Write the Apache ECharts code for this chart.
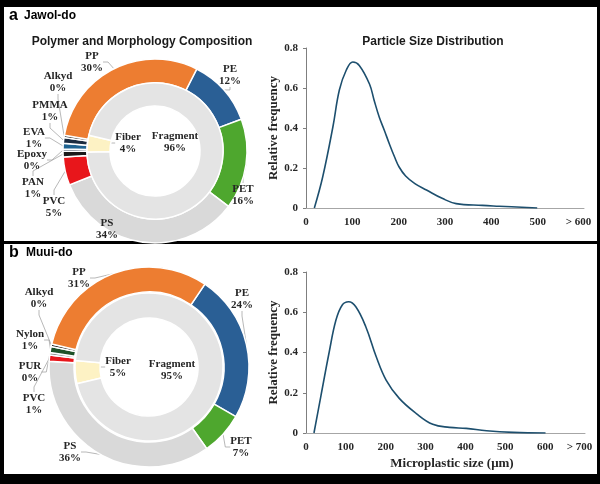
<!DOCTYPE html>
<html>
<head>
<meta charset="utf-8">
<script src="https://cdn.jsdelivr.net/npm/echarts@6/dist/echarts.min.js"></script>
<style>
  html, body { margin: 0; padding: 0; background: #000; }
  #wrap { position: relative; width: 600px; height: 484px; background: #000; }
  .panel { position: absolute; left: 4px; width: 593px; background: #fff; }
  #main { position: absolute; left: 0; top: 0; width: 600px; height: 484px; }
</style>
</head>
<body>
<div id="wrap">
  <div class="panel" style="top:7px;height:234px"></div>
  <div class="panel" style="top:244px;height:230px"></div>
  <div id="main"></div>
</div>
<script>
// Jawol-do polymer composition (%), clockwise from PE
const polymerNamesA = ["PE", "PET", "PS", "PVC", "PAN", "Epoxy", "EVA", "PMMA", "Alkyd", "PP"];
const polymerPctA = [12, 16, 34, 5, 1, 0.4, 1, 1, 0.4, 30];
// Muui-do polymer composition (%)
const polymerNamesB = ["PE", "PET", "PS", "PVC", "PUR", "Nylon", "Alkyd", "PP"];
const polymerPctB = [24, 7, 36, 1, 0.4, 1, 0.4, 31];
// morphology
const morphNames = ["Fiber", "Fragment"];
const morphPctA = [4, 96];
const morphPctB = [5, 95];

// particle size distribution (size in µm, relative frequency)
const sizeA = [18, 36, 58, 72, 87, 101, 115, 137, 147, 158, 169, 180, 191, 201, 215, 235, 260, 295, 324, 381, 417, 499];
const freqA = [0, 0.155, 0.405, 0.59, 0.69, 0.73, 0.713, 0.62, 0.539, 0.455, 0.389, 0.32, 0.256, 0.205, 0.16, 0.122, 0.09, 0.047, 0.022, 0.013, 0.009, 0];
const sizeB = [20, 37, 58, 75, 91, 107, 125, 150, 176, 201, 234, 276, 318, 360, 402, 453, 520, 601];
const freqB = [0, 0.18, 0.40, 0.56, 0.636, 0.652, 0.627, 0.528, 0.38, 0.263, 0.172, 0.098, 0.043, 0.028, 0.023, 0.011, 0.003, 0];

const colors = {
  PE: "#2a5f95", PET: "#4ea72e", PS: "#d9d9d9", PVC: "#e8161b", PAN: "#1a1a1a",
  Epoxy: "#3d4a5c", EVA: "#1f6391", PMMA: "#1c2c40", Alkyd: "#0d0d0d", PP: "#ed7d31",
  PUR: "#7f7f7f", Nylon: "#1e5128", Fiber: "#fdf2c4", Fragment: "#e4e4e4"
};

// where the labels sit (px), as in the original figure
const labelPosA = {
  PP: [92, 62], Alkyd: [58, 82], PMMA: [50, 111], EVA: [34, 138], Epoxy: [32, 160],
  PAN: [33, 188], PVC: [54, 207], PS: [107, 229], PE: [230, 75], PET: [243, 195],
  Fiber: [128, 143], Fragment: [175, 142]
};
const labelPosB = {
  PP: [79, 278], Alkyd: [39, 298], Nylon: [30, 340], PUR: [30, 372], PVC: [34, 404],
  PS: [70, 452], PE: [242, 299], PET: [241, 447],
  Fiber: [118, 367], Fragment: [172, 370]
};

const serif = "Liberation Serif";
const sans = "Liberation Sans";

function ring(names, values, center, radius, startAngle, pos) {
  return {
    type: "pie",
    center: center,
    radius: radius,
    startAngle: startAngle,
    clockwise: true,
    avoidLabelOverlap: false,
    data: names.map(function (n, i) {
      const d = { name: n, value: values[i], itemStyle: { color: colors[n] } };
      if (n === "Fragment") d.labelLine = { show: false };
      return d;
    }),
    itemStyle: { borderColor: "#fff", borderWidth: 1.5 },
    label: {
      show: true,
      position: "outside",
      formatter: function (p) { return p.name + "\n" + Math.round(p.value) + "%"; },
      fontFamily: serif,
      fontWeight: "bold",
      fontSize: 11,
      lineHeight: 12,
      color: "#262626"
    },
    labelLine: { show: true, length: 5, length2: 5, lineStyle: { color: "#a6a6a6", width: 0.8 } },
    labelLayout: function (p) {
      const q = pos[names[p.dataIndex]];
      return { x: q[0], y: q[1], align: "center", verticalAlign: "middle" };
    },
    emphasis: { disabled: true }
  };
}

function zip(xs, ys) {
  return xs.map(function (x, i) { return [x, ys[i]]; });
}

const axisFont = { fontFamily: serif, fontWeight: "bold", fontSize: 11, color: "#262626" };

function xAxisFor(gridIndex, max, name) {
  return {
    type: "value",
    gridIndex: gridIndex,
    min: 0,
    max: max,
    interval: 100,
    axisLine: { show: true, lineStyle: { color: "#a6a6a6", width: 1 } },
    axisTick: { show: false },
    splitLine: { show: false },
    axisLabel: Object.assign({
      margin: 9,
      formatter: function (v) { return v === max ? "{last|> " + v + "}" : String(v); },
      rich: { last: { fontFamily: serif, fontWeight: "bold", fontSize: 11, color: "#262626", padding: [0, 11, 0, 0] } }
    }, axisFont),
    name: name,
    nameLocation: "middle",
    nameGap: 24,
    nameTextStyle: { fontFamily: serif, fontWeight: "bold", fontSize: 13, color: "#262626", padding: [0, 0, 0, 13] }
  };
}

function yAxisFor(gridIndex) {
  return {
    type: "value",
    gridIndex: gridIndex,
    min: 0,
    max: 0.8,
    interval: 0.2,
    axisLine: { show: true, lineStyle: { color: "#7f7f7f", width: 1 } },
    axisTick: { show: true, length: 3, lineStyle: { color: "#7f7f7f" } },
    splitLine: { show: false },
    axisLabel: Object.assign({ margin: 8, formatter: function (v) { return v === 0 ? "0" : v.toFixed(1); } }, axisFont),
    name: "Relative frequency",
    nameLocation: "middle",
    nameRotate: 90,
    nameGap: 18,
    nameTextStyle: { fontFamily: serif, fontWeight: "bold", fontSize: 13, color: "#262626" }
  };
}

let option = {
  backgroundColor: "transparent",
  animation: false,
  title: [
    { text: "Polymer and Morphology Composition", left: 137, top: 31, textAlign: "center",
      textStyle: { fontFamily: sans, fontWeight: "bold", fontSize: 12, color: "#1a1a1a" } },
    { text: "Particle Size Distribution", left: 428, top: 31, textAlign: "center",
      textStyle: { fontFamily: sans, fontWeight: "bold", fontSize: 12, color: "#1a1a1a" } }
  ],
  graphic: [
    { type: "text", left: 9, top: 8, style: { text: "a", font: "bold 16px " + sans, fill: "#000" } },
    { type: "text", left: 24, top: 10, style: { text: "Jawol-do", font: "bold 12px " + sans, fill: "#000" } },
    { type: "text", left: 9, top: 245, style: { text: "b", font: "bold 16px " + sans, fill: "#000" } },
    { type: "text", left: 26, top: 247, style: { text: "Muui-do", font: "bold 12px " + sans, fill: "#000" } }
  ],
  grid: [
    { left: 306, top: 48, width: 278, height: 160 },
    { left: 306, top: 272, width: 279, height: 161 }
  ],
  xAxis: [xAxisFor(0, 600, ""), xAxisFor(1, 700, "Microplastic size (\u03bcm)")],
  yAxis: [yAxisFor(0), yAxisFor(1)],
  series: [
    ring(polymerNamesA, polymerPctA, [155, 151], [68, 92], 63, labelPosA),
    ring(morphNames, morphPctA, [155, 151], [45, 68], 181, labelPosA),
    ring(polymerNamesB, polymerPctB, [149, 367], [75, 100], 56, labelPosB),
    ring(morphNames, morphPctB, [149, 367], [49, 74], 193, labelPosB),
    {
      type: "line", xAxisIndex: 0, yAxisIndex: 0, smooth: 0.4, showSymbol: false,
      lineStyle: { color: "#1d4f6e", width: 1.6 }, data: zip(sizeA, freqA)
    },
    {
      type: "line", xAxisIndex: 1, yAxisIndex: 1, smooth: 0.4, showSymbol: false,
      lineStyle: { color: "#1d4f6e", width: 1.6 }, data: zip(sizeB, freqB)
    }
  ]
};

var myChart = echarts.init(document.getElementById("main"));
myChart.setOption(option);
</script>
</body>
</html>
